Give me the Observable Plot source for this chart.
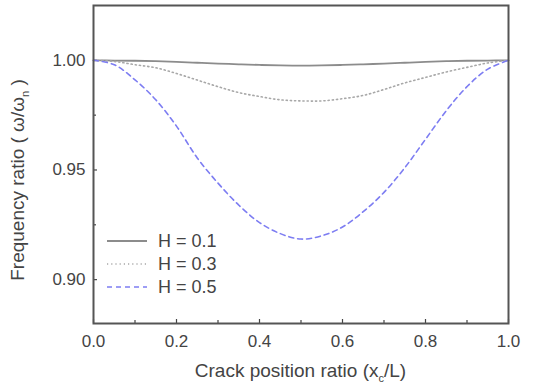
<!DOCTYPE html>
<html><head><meta charset="utf-8">
<script src="https://cdn.jsdelivr.net/npm/d3@7"></script>
<script src="https://cdn.jsdelivr.net/npm/@observablehq/plot@0.6"></script>
<style>
body{margin:0;background:#fff}
#chart svg{font-family:"Liberation Sans",Arial,sans-serif;display:block}
</style>
</head><body><div id="chart"></div>
<script>
// ---- data ----
const crackPos = [0,0.05,0.1,0.15,0.2,0.25,0.3,0.35,0.4,0.45,0.5,0.55,0.6,0.65,0.7,0.75,0.8,0.85,0.9,0.95,1.0];
const freqH01 = [1.0000,0.9999,0.9998,0.9996,0.9993,0.9989,0.9985,0.9982,0.9979,0.9977,0.9976,0.9977,0.9979,0.9982,0.9985,0.9989,0.9993,0.9996,0.9998,0.9999,1.0000];
const freqH03 = [1.0000,0.9995,0.9980,0.9966,0.9940,0.9910,0.9880,0.9853,0.9835,0.9820,0.9815,0.9815,0.9825,0.9840,0.9867,0.9897,0.9922,0.9947,0.9968,0.9988,1.0000];
const freqH05 = [1.0000,0.9980,0.9911,0.9820,0.9700,0.9555,0.9440,0.9340,0.9260,0.9210,0.9185,0.9200,0.9240,0.9310,0.9398,0.9510,0.9640,0.9770,0.9880,0.9960,1.0000];
const seriesNames = ["H = 0.1","H = 0.3","H = 0.5"];
const xTickLabels = [0,0.2,0.4,0.6,0.8,1.0];
const xMinorTicks = [0.1,0.3,0.5,0.7,0.9];
const yTickLabels = [0.90,0.95,1.00];
const yMinorTicks = [0.925,0.975];
const xTitle = "Crack position ratio (x";
const yTitle = "Frequency ratio ( ω/ω";

// ---- build table ----
const seriesValues = [freqH01, freqH03, freqH05];
const rows = [];
seriesNames.forEach((name, i) => crackPos.forEach((x, j) => rows.push({series: name, x, y: seriesValues[i][j]})));

const styles = {
  "H = 0.1": {stroke: "#8c8c8c", strokeWidth: 1.8, dash: null},
  "H = 0.3": {stroke: "#a8a8a8", strokeWidth: 1.6, dash: "1.2,3"},
  "H = 0.5": {stroke: "#7d7df2", strokeWidth: 1.6, dash: "5,4"}
};

const W = 534, H = 386, mL = 93, mR = 26, mT = 5, mB = 63;
const pw = W - mL - mR, ph = H - mT - mB;

const plot = Plot.plot({
  width: W, height: H,
  marginLeft: mL, marginRight: mR, marginTop: mT, marginBottom: mB,
  style: {fontFamily: '"Liberation Sans",Arial,sans-serif', fontSize: "17px", color: "#444", background: "#fff"},
  x: {domain: [0, 1], label: null},
  y: {domain: [0.88, 1.025], label: null},
  marks: [
    Plot.axisX(xTickLabels, {tickSize: 0, tickPadding: 11, tickFormat: d3.format(".1f"), fill: "#444", label: null}),
    Plot.axisY(yTickLabels, {tickSize: 0, tickPadding: 8, tickFormat: d3.format(".2f"), fill: "#444", label: null}),
    Plot.tickX(xTickLabels, {x: d => d, insetTop: ph - 4, stroke: "#444", strokeWidth: 1.2}),
    Plot.tickX(xMinorTicks, {x: d => d, insetTop: ph - 3, stroke: "#444", strokeWidth: 1.2}),
    Plot.tickY(yTickLabels, {y: d => d, insetRight: pw - 4, stroke: "#444", strokeWidth: 1.2}),
    Plot.tickY(yMinorTicks, {y: d => d, insetRight: pw - 3, stroke: "#444", strokeWidth: 1.2}),
    ...seriesNames.map(name => Plot.line(rows.filter(r => r.series === name), {
      x: "x", y: "y", curve: "catmull-rom",
      stroke: styles[name].stroke, strokeWidth: styles[name].strokeWidth,
      strokeDasharray: styles[name].dash
    })),
    Plot.frame({stroke: "#555", strokeWidth: 2})
  ]
});
document.getElementById("chart").appendChild(plot);

// ---- axis titles and legend ----
const svg = d3.select(plot);
const ff = '"Liberation Sans",Arial,sans-serif';
svg.selectAll('g[aria-label$="tick label"]').attr("font-size", 17).selectAll("text").style("font-size", "17px");

const xt = svg.append("text")
  .attr("x", mL + pw / 2).attr("y", 377)
  .attr("text-anchor", "middle").attr("fill", "#444")
  .style("font-family", ff).style("font-size", "19px");
xt.append("tspan").text(xTitle);
xt.append("tspan").attr("dy", 5).style("font-size", "11px").text("c");
xt.append("tspan").attr("dy", -5).text("/L)");

const yt = svg.append("text")
  .attr("transform", "translate(24,180) rotate(-90)")
  .attr("text-anchor", "middle").attr("fill", "#444")
  .style("font-family", ff).style("font-size", "19px");
yt.append("tspan").text(yTitle);
yt.append("tspan").attr("dy", 5).style("font-size", "11px").text("n");
yt.append("tspan").attr("dy", -5).text(" )");

const leg = svg.append("g");
seriesNames.forEach((name, i) => {
  const cy = 241 + i * 23;
  const s = styles[name];
  leg.append("line").attr("x1", 107).attr("x2", 147).attr("y1", cy).attr("y2", cy)
    .attr("stroke", s.stroke).attr("stroke-width", s.strokeWidth)
    .attr("stroke-dasharray", s.dash);
  leg.append("text").attr("x", 158).attr("y", cy).attr("dy", "0.36em")
    .attr("text-anchor", "start")
    .attr("fill", "#444").style("font-family", ff).style("font-size", "18px").text(name);
});
</script>
</body></html>
